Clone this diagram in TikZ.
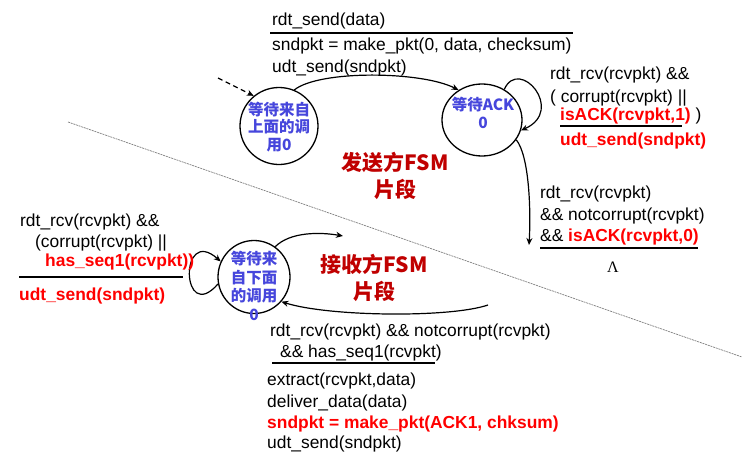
\documentclass[tikz,border=0pt]{standalone}
\usepackage{fontspec}
\setmainfont{Liberation Sans}
\newfontfamily\cjk{Noto Sans CJK SC}
\newfontfamily\serifgr{Liberation Serif}
\usetikzlibrary{arrows.meta,shapes.geometric}
\definecolor{stblue}{RGB}{70,70,220}
\definecolor{lred}{RGB}{255,0,0}
\definecolor{dred}{RGB}{192,0,0}
\newcommand{\rb}[1]{\textcolor{lred}{\bfseries #1}}
\begin{document}
\begin{tikzpicture}[x=1pt,y=-1pt,
 lbl/.style={anchor=base west, inner sep=0pt, font=\fontsize{17.4}{20}\selectfont},
 state/.style={draw, ellipse, line width=1.3pt, inner sep=0pt},
 sttext/.style={align=center, inner sep=0pt, text=stblue, font=\cjk\bfseries\fontsize{15.5}{17.5}\selectfont},
 fsm/.style={align=center, inner sep=0pt, text=dred, font=\cjk\bfseries\fontsize{21}{27}\selectfont},
 rule/.style={line width=1.8pt},
 trans/.style={line width=1.2pt, -{Stealth[length=7pt,width=6pt]}},
]
\useasboundingbox[fill=white] (0,0) rectangle (756,455);

% divider
\coordinate (d1) at (68,122);
\coordinate (d2) at (742,357);
\draw[gray, line width=0.7pt, dash pattern=on 2pt off 0.8pt] (d1) -- (d2);

% states
\node[state, minimum width=78pt, minimum height=77pt] (A) at (279,126) {};
\node[sttext] (At) at (279,127) {等待来自\\上面的调\\用0};
\node[state, minimum width=80pt, minimum height=72pt] (B) at (482,120) {};
\node[sttext] (Bt) at (483,113) {等待ACK\\0};
\node[state, minimum width=72pt, minimum height=73pt] (C) at (254,277) {};
\node[sttext, font=\cjk\bfseries\fontsize{15.5}{18.5}\selectfont] (Ct) at (254,286) {等待来\\自下面\\的调用\\0};

% FSM labels
\node[fsm] (sendfsm) at (395,176) {发送方FSM\\片段};
\node[fsm] (rcvfsm) at (374,278) {接收方FSM\\片段};

% initial arrow
\coordinate (init) at (218,78);
\draw[line width=1.2pt, dash pattern=on 5pt off 3.5pt, -{Stealth[length=7pt,width=6pt]}] (init) -- (A.130);

% A -> B
\draw[trans] (A.67) .. controls +(25,-20) and +(-37,-19) .. (B.128);
% B self loop
\draw[trans] (B.54) .. controls +(15,-33) and +(45,-20) .. (B.-15);
% B -> next
\coordinate (Bout) at (529,245);
\draw[trans] (B.-30) .. controls +(13,16) and +(2,-35) .. (Bout);
% C self loop
\draw[trans] (C.191) .. controls +(-37,42) and +(-42,-37) .. (C.155);
% C -> next
\coordinate (Cout) at (343,236);
\draw[trans] (C.55) .. controls +(15,-15) and +(-23,-4) .. (Cout);
% into C
\coordinate (Cin) at (488,305);
\draw[trans] (Cin) .. controls +(-38,13) and +(47,15) .. (C.-42);

% top label
\node[lbl] (t1) at (272,25) {rdt\_send(data)};
\coordinate (r1a) at (270,33); \coordinate (r1b) at (573,33);
\draw[rule] (r1a) -- (r1b);
\node[lbl] (t2) at (272,50) {sndpkt = make\_pkt(0, data, checksum)};
\node[lbl] (t3) at (272,72) {udt\_send(sndpkt)};

% right upper label
\node[lbl] (u1) at (550,79) {rdt\_rcv(rcvpkt) \&\&};
\node[lbl] (u2) at (550,102) {( corrupt(rcvpkt) ||};
\node[lbl] (u3) at (560,120) {\rb{isACK(rcvpkt,1)} )};
\coordinate (r2a) at (560,126); \coordinate (r2b) at (682,126);
\draw[rule] (r2a) -- (r2b);
\node[lbl] (u4) at (560,145) {\rb{udt\_send(sndpkt)}};

% right lower label
\node[lbl] (v1) at (540,198) {rdt\_rcv(rcvpkt)};
\node[lbl] (v2) at (540,220) {\&\& notcorrupt(rcvpkt)};
\node[lbl] (v3) at (540,241) {\&\& \rb{isACK(rcvpkt,0)}};
\coordinate (r3a) at (540,248); \coordinate (r3b) at (698,248);
\draw[rule] (r3a) -- (r3b);
\node[inner sep=0pt, font=\serifgr\fontsize{16}{18}\selectfont] (lam) at (613,267) {Λ};

% left label
\node[lbl] (w1) at (20,226) {rdt\_rcv(rcvpkt) \&\&};
\node[lbl] (w2) at (35,247) {(corrupt(rcvpkt) ||};
\node[lbl] (w3) at (45,266) {\rb{has\_seq1(rcvpkt))}};
\coordinate (r4a) at (19,277); \coordinate (r4b) at (183,277);
\draw[rule] (r4a) -- (r4b);
\node[lbl] (w4) at (19,300) {\rb{udt\_send(sndpkt)}};

% bottom label
\node[lbl] (x1) at (270,336) {rdt\_rcv(rcvpkt) \&\& notcorrupt(rcvpkt)};
\node[lbl] (x2) at (280,357) {\&\& has\_seq1(rcvpkt)};
\coordinate (r5a) at (272,363); \coordinate (r5b) at (435,363);
\draw[rule] (r5a) -- (r5b);
\node[lbl] (x3) at (267,385) {extract(rcvpkt,data)};
\node[lbl] (x4) at (267,407) {deliver\_data(data)};
\node[lbl] (x5) at (267,428) {\rb{sndpkt = make\_pkt(ACK1, chksum)}};
\node[lbl] (x6) at (267,448) {udt\_send(sndpkt)};
\end{tikzpicture}
\end{document}
